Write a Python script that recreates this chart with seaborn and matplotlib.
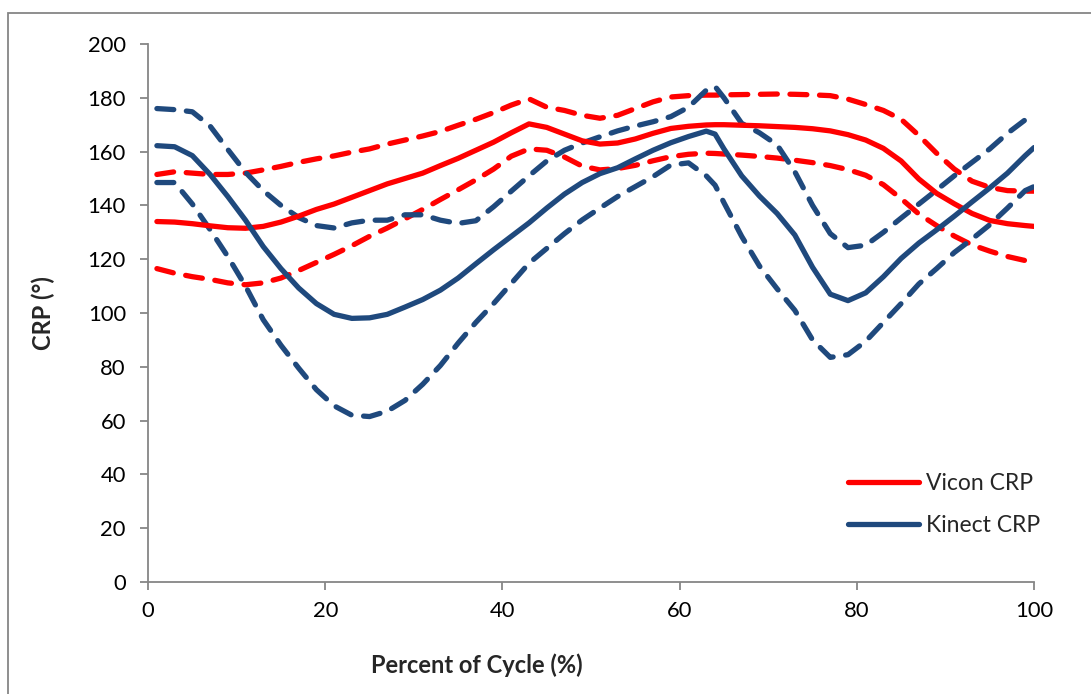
import numpy as np
import pandas as pd
import matplotlib
matplotlib.use("Agg")
import matplotlib.pyplot as plt
import seaborn as sns
from matplotlib.patches import Rectangle

# percent of gait cycle
cycle = [1, 3, 5, 7, 9, 11, 13, 15, 17, 19, 21, 23, 25, 27, 29, 31, 33, 35, 37, 39,
         41, 43, 45, 47, 49, 51, 53, 55, 57, 59, 61, 63, 64, 65, 67, 69, 71, 73, 75, 77,
         79, 81, 83, 85, 87, 89, 91, 93, 95, 97, 99, 100]

vicon_mean = [134, 133.8, 133.2, 132.4, 131.7, 131.5, 132.2, 133.8, 136, 138.5,
              140.5, 143, 145.5, 148, 150, 152, 154.8, 157.5, 160.5, 163.5,
              167, 170.3, 169, 166.5, 164, 162.8, 163.2, 164.7, 166.8, 168.6,
              169.4, 169.9, 170, 170, 169.8, 169.6, 169.3, 169, 168.5, 167.7,
              166.3, 164.3, 161.2, 156.5, 149.8, 144.5, 140.6, 137, 134.4, 133.2,
              132.5, 132.2]
vicon_upper = [151.5, 152.5, 152, 151.5, 151.5, 152, 153.2, 154.5, 156, 157.3,
               158.4, 159.8, 161, 162.8, 164.3, 165.8, 167.5, 169.8, 172, 174.5,
               177.3, 179.6, 176.5, 175.3, 173.5, 172.4, 173.5, 176, 178.5, 180.3,
               180.8, 181, 181, 181.1, 181.2, 181.3, 181.4, 181.3, 181.1, 180.8,
               179.5, 177.5, 175.3, 172, 166, 159.4, 153.5, 149, 146.7, 145.5,
               145.3, 145.3]
vicon_lower = [116.5, 114.8, 113.5, 112.5, 111.2, 110.5, 111.2, 113, 115.8, 118.8,
               121.8, 125, 128.5, 131.6, 135, 138.5, 142.2, 145.8, 149.5, 153.5,
               158.3, 161, 160.5, 158, 154.6, 153.2, 153.7, 154.9, 156.6, 158.1,
               159, 159.4, 159.3, 159.1, 158.7, 158.2, 157.6, 156.8, 155.9, 154.8,
               153.3, 151.2, 147.7, 142.5, 136.8, 132.5, 128.6, 125.3, 123, 121,
               119.5, 119]

kinect_mean = [162.2, 161.8, 158.5, 151.5, 143.3, 134.5, 124.7, 116.5, 109.3, 103.5,
               99.5, 98, 98.2, 99.5, 102.2, 105, 108.5, 113, 118.3, 123.5,
               128.5, 133.5, 139, 144.2, 148.5, 151.8, 154, 157.3, 160.5, 163.3,
               165.6, 167.6, 166.5, 161, 151, 143.5, 137, 129, 117, 107,
               104.6, 107.5, 113.5, 120.3, 126, 130.9, 136, 141.3, 146.5, 152,
               158.5, 161.5]
kinect_upper = [176, 175.6, 174.8, 169.5, 160.8, 152.3, 145.5, 140, 135.5, 132.5,
                131.6, 133.5, 134.5, 134.5, 136.5, 136.5, 134.5, 133.3, 134.3, 139.5,
                145.3, 151, 156.5, 160.5, 163.2, 165.5, 167.7, 169.5, 171.1, 173,
                176.5, 182.8, 184.2, 180, 170.5, 167, 162.5, 152.5, 140, 129.5,
                124.3, 125.2, 130, 135.3, 140.5, 145.7, 151, 156, 161, 166.8,
                171.8, 174]
kinect_lower = [148.5, 148.5, 140.5, 131, 121, 110, 97.5, 88, 79.5, 71.5,
                65.5, 62, 61.5, 63.5, 67.5, 73.5, 80.5, 88.8, 96.5, 103.5,
                111, 118.5, 124, 129.5, 134.6, 139, 143.3, 147, 150.7, 155,
                155.8, 151, 147.5, 141, 128.5, 117.5, 109, 101, 90, 83.5,
                84.5, 89.5, 96.5, 103.5, 110.8, 116.5, 122.5, 127.5, 132.8, 139,
                145.5, 147]

df = pd.DataFrame({"cycle": cycle,
                   "vicon_mean": vicon_mean, "vicon_upper": vicon_upper,
                   "vicon_lower": vicon_lower, "kinect_mean": kinect_mean,
                   "kinect_upper": kinect_upper, "kinect_lower": kinect_lower})

sns.set_style("white")
plt.rcParams["font.family"] = ["Lato", "DejaVu Sans"]

red = "#FF0000"
blue = "#1F497D"
grey = "#868686"
dash = (0, (3.2, 2.4))

fig = plt.figure(figsize=(10.91, 6.94), dpi=100)
ax = fig.add_axes([0.1357, 0.1614, 0.8121, 0.7752])

lw = 3.8
sns.lineplot(data=df, x="cycle", y="vicon_upper", ax=ax, color=red, lw=lw,
             linestyle=dash, dash_capstyle="round", dash_joinstyle="round")
sns.lineplot(data=df, x="cycle", y="vicon_lower", ax=ax, color=red, lw=lw,
             linestyle=dash, dash_capstyle="round", dash_joinstyle="round")
sns.lineplot(data=df, x="cycle", y="kinect_upper", ax=ax, color=blue, lw=lw,
             linestyle=dash, dash_capstyle="round", dash_joinstyle="round")
sns.lineplot(data=df, x="cycle", y="kinect_lower", ax=ax, color=blue, lw=lw,
             linestyle=dash, dash_capstyle="round", dash_joinstyle="round")
sns.lineplot(data=df, x="cycle", y="vicon_mean", ax=ax, color=red, lw=lw,
             solid_capstyle="round", solid_joinstyle="round", label="Vicon CRP")
sns.lineplot(data=df, x="cycle", y="kinect_mean", ax=ax, color=blue, lw=lw,
             solid_capstyle="round", solid_joinstyle="round", label="Kinect CRP")

ax.set_xlim(0, 100)
ax.set_ylim(0, 200)
ax.set_xticks(range(0, 101, 20))
ax.set_yticks(range(0, 201, 20))
for side in ["top", "right"]:
    ax.spines[side].set_visible(False)
for side in ["left", "bottom"]:
    ax.spines[side].set_color(grey)
    ax.spines[side].set_linewidth(1.3)
ax.tick_params(axis="both", which="both", length=6, width=1.3, color=grey,
               labelsize=15.8, labelcolor="black", direction="out",
               left=True, bottom=True)
ax.tick_params(axis="y", pad=10)
ax.tick_params(axis="x", pad=8)

ax.set_xlabel("Percent of Cycle (%)", fontsize=17, fontweight="bold")
ax.set_ylabel("CRP (°)", fontsize=17, fontweight="bold")
ax.xaxis.set_label_coords(0.371, -0.132)
ax.yaxis.set_label_coords(-0.105, 0.5)

leg = ax.legend(loc="upper left", bbox_to_anchor=(0.79, 0.202), frameon=False,
                fontsize=16.5, handlelength=3.1, handletextpad=0.3,
                labelspacing=0.9, borderpad=0, borderaxespad=0)
for h in leg.get_lines():
    h.set_linewidth(lw)
    h.set_solid_capstyle("round")

fig.patches.append(Rectangle((8 / 1091, -0.05), 1.1, 0.05 + 1 - 13 / 694,
                             transform=fig.transFigure, fill=False,
                             edgecolor=grey, linewidth=1.3))

fig.savefig("out.png", dpi=100)
